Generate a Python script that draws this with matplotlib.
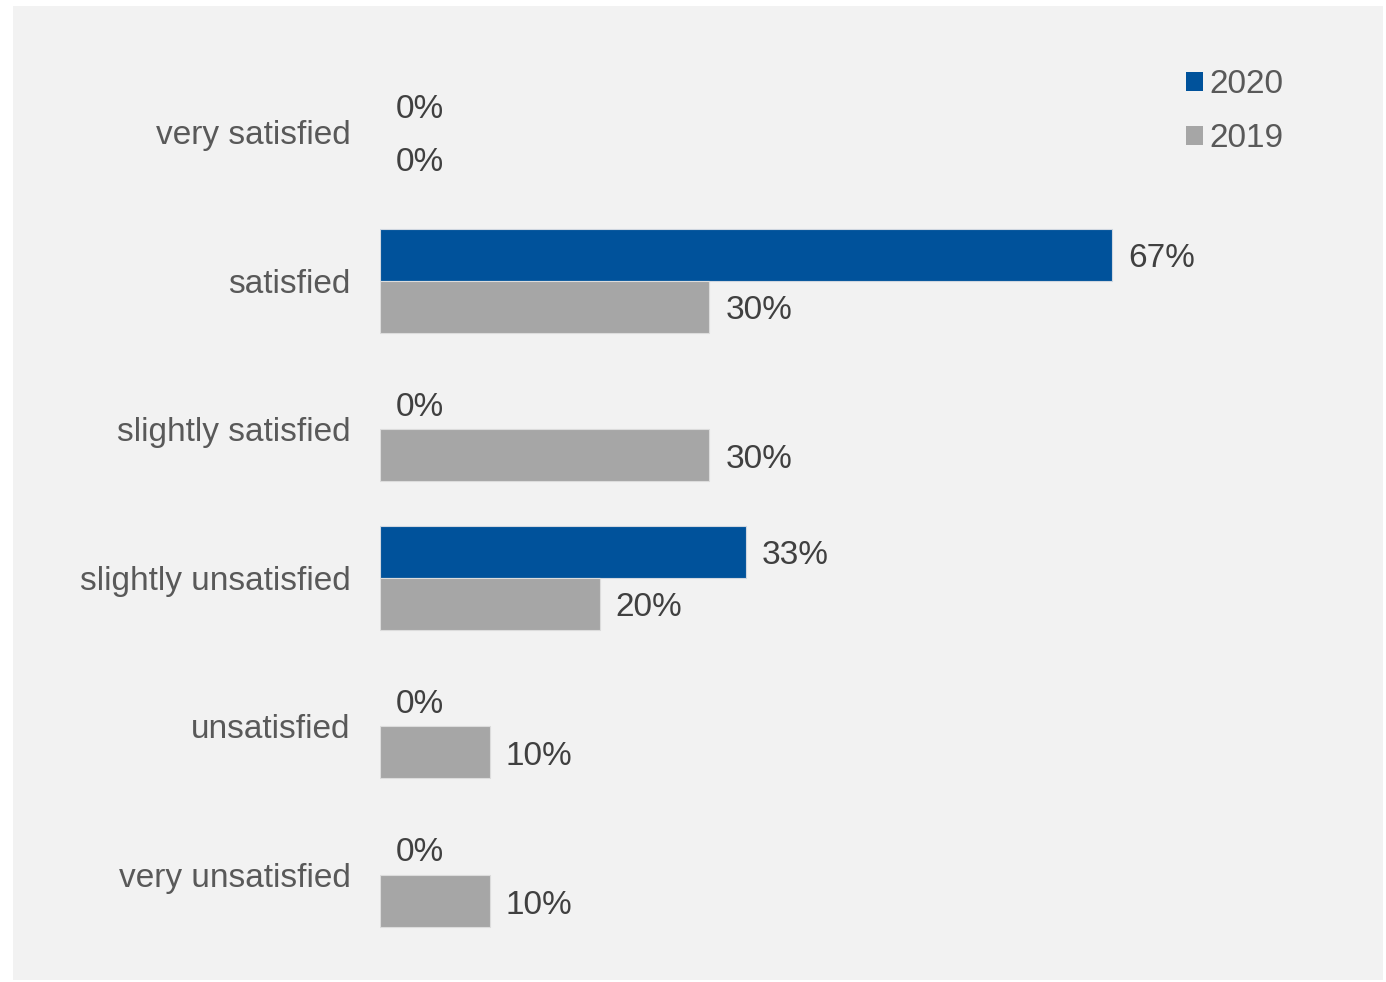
import matplotlib
matplotlib.use("Agg")
import matplotlib.pyplot as plt
from matplotlib.patches import Rectangle, Patch

plt.rcParams['font.family'] = ['Liberation Sans', 'DejaVu Sans']

# ---------------- DATA ----------------
categories = ["very satisfied", "satisfied", "slightly satisfied",
              "slightly unsatisfied", "unsatisfied", "very unsatisfied"]
values_2020 = [0, 66.67, 0, 33.33, 0, 0]
values_2019 = [0, 30, 30, 20, 10, 10]
series_names = ["2020", "2019"]

BLUE = "#00529b"
GREY = "#a6a6a6"
W, H = 1386, 982

fig = plt.figure(figsize=(W / 100, H / 100), dpi=100)
fig.patch.set_facecolor("white")
# light grey panel
fig.add_artist(Rectangle((13 / W, 1 - 980 / H), (1383 - 13) / W, (980 - 6) / H,
                         transform=fig.transFigure, facecolor="#f2f2f2",
                         edgecolor="none", zorder=0))

# axes placed in pixels: x from 380 to 1383, y from 7 to 980
ax = fig.add_axes([380 / W, 1 - 980 / H, (1383 - 380) / W, (980 - 7) / H])
ax.set_facecolor("none")

px_per_pct = (1112 - 380) / 66.67
ax.set_xlim(0, (1383 - 380) / px_per_pct)
step = 148.6
ax.set_ylim((980 - 132) / step, -(132 - 7) / step)

bh = 0.35
ys = list(range(len(categories)))
ax.barh([y - bh / 2 for y in ys], values_2020, height=bh, color=BLUE,
        edgecolor="#d0d7e0", linewidth=[0.8 if v > 0 else 0 for v in values_2020])
ax.barh([y + bh / 2 for y in ys], values_2019, height=bh, color=GREY,
        edgecolor="#dcdcdc", linewidth=[0.8 if v > 0 else 0 for v in values_2019])

for y, v in zip(ys, values_2020):
    ax.annotate(f"{v:.0f}%", (v, y - bh / 2), xytext=(16, -4), textcoords="offset pixels",
                va="center", ha="left", fontsize=24, color="#404040")
for y, v in zip(ys, values_2019):
    ax.annotate(f"{v:.0f}%", (v, y + bh / 2), xytext=(16, -4), textcoords="offset pixels",
                va="center", ha="left", fontsize=24, color="#404040")

ax.set_yticks(ys)
ax.set_yticklabels(categories, fontsize=24, color="#595959")
ax.tick_params(axis="y", length=0, pad=21)
ax.set_xticks([])
for s in ax.spines.values():
    s.set_visible(False)

handles = [Patch(facecolor=BLUE, edgecolor="none"), Patch(facecolor=GREY, edgecolor="none")]
fig.legend(handles, series_names, loc="upper left",
           bbox_to_anchor=(1186 / W, 1 - 69 / H), frameon=False, fontsize=24,
           labelcolor="#595959", handlelength=0.5, handleheight=0.5,
           handletextpad=0.2, labelspacing=0.7, borderpad=0, borderaxespad=0)

fig.savefig("out.png", dpi=100)
